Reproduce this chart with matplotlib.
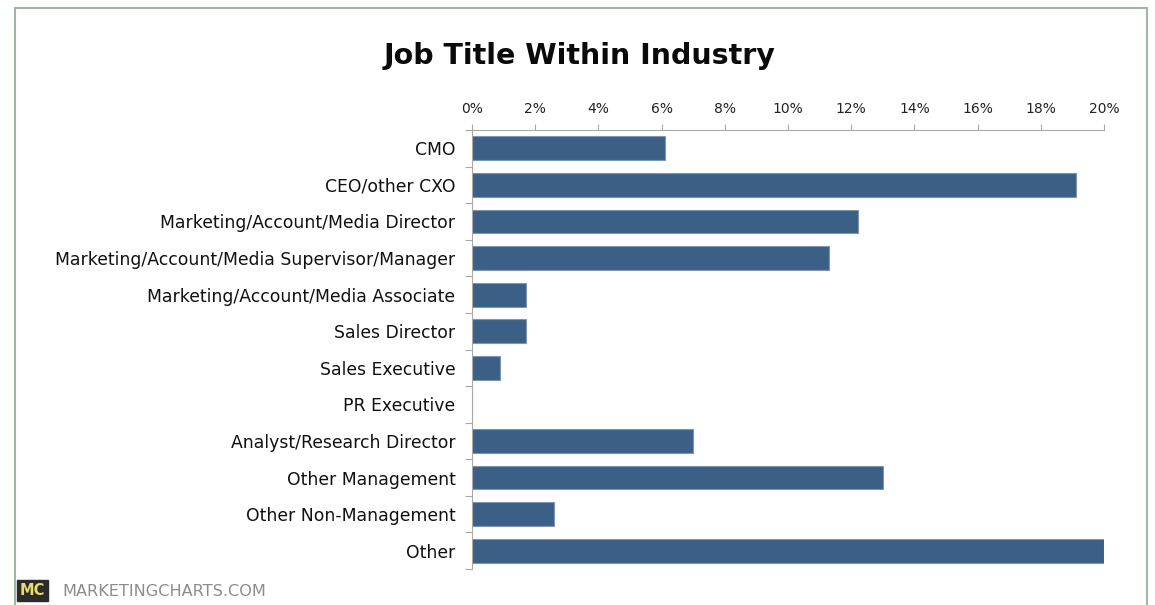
import matplotlib
matplotlib.use("Agg")
import matplotlib.pyplot as plt
from matplotlib.patches import Rectangle
from matplotlib.ticker import FuncFormatter, MultipleLocator

# job titles, top to bottom
titles = [
    "CMO",
    "CEO/other CXO",
    "Marketing/Account/Media Director",
    "Marketing/Account/Media Supervisor/Manager",
    "Marketing/Account/Media Associate",
    "Sales Director",
    "Sales Executive",
    "PR Executive",
    "Analyst/Research Director",
    "Other Management",
    "Other Non-Management",
    "Other",
]
share = [6.1, 19.1, 12.2, 11.3, 1.7, 1.7, 0.9, 0.0, 7.0, 13.0, 2.6, 20.0]

bar_color = "#3c5f86"
axis_gray = "#a8a8a8"

fig = plt.figure(figsize=(11.55, 6.05), dpi=100)
ax = fig.add_axes([0.4087, 0.0595, 0.5472, 0.7256])

pos = list(range(len(titles)))
ax.barh(pos, share, height=0.65, color=bar_color, edgecolor="#7f96b2", linewidth=0.8)
ax.set_ylim(len(titles) - 0.5, -0.5)
ax.set_xlim(0, 20)

ax.xaxis.tick_top()
ax.xaxis.set_major_locator(MultipleLocator(2))
ax.xaxis.set_major_formatter(FuncFormatter(lambda v, p: f"{v:.0f}%"))
ax.tick_params(axis="x", direction="out", length=4, width=0.8, color=axis_gray,
               labelsize=10, labelcolor="#222222", pad=6)

ax.set_yticks(pos)
ax.set_yticklabels(titles, fontsize=12.4, color="#111111")
ax.set_yticks([p + 0.5 for p in [-1] + pos], minor=True)
ax.tick_params(axis="y", which="major", length=0, pad=12)
ax.tick_params(axis="y", which="minor", direction="out", length=5, width=0.8, color=axis_gray)

for s in ["bottom", "right"]:
    ax.spines[s].set_visible(False)
for s in ["top", "left"]:
    ax.spines[s].set_color(axis_gray)
    ax.spines[s].set_linewidth(0.8)

fig.text(0.502, 0.908, "Job Title Within Industry", ha="center", va="center",
         fontsize=20.5, fontweight="heavy", color="#0a0a0a")

# outer frame
fig.patches.append(Rectangle((0.013, -0.01), 0.980, 0.997, transform=fig.transFigure,
                             fill=False, edgecolor="#9bb8a6", linewidth=1.5))

# footer
fig.text(0.017, 0.012, "MC", fontsize=10.5, fontweight="bold", color="#e8dc6a",
         ha="left", va="bottom",
         bbox=dict(boxstyle="square,pad=0.2", facecolor="#2b2b2b", edgecolor="#2b2b2b"))
fig.text(0.054, 0.010, "MARKETINGCHARTS.COM", fontsize=11.6, color="#8c8c8c",
         ha="left", va="bottom")

fig.savefig("out.png", dpi=100, facecolor="white")
